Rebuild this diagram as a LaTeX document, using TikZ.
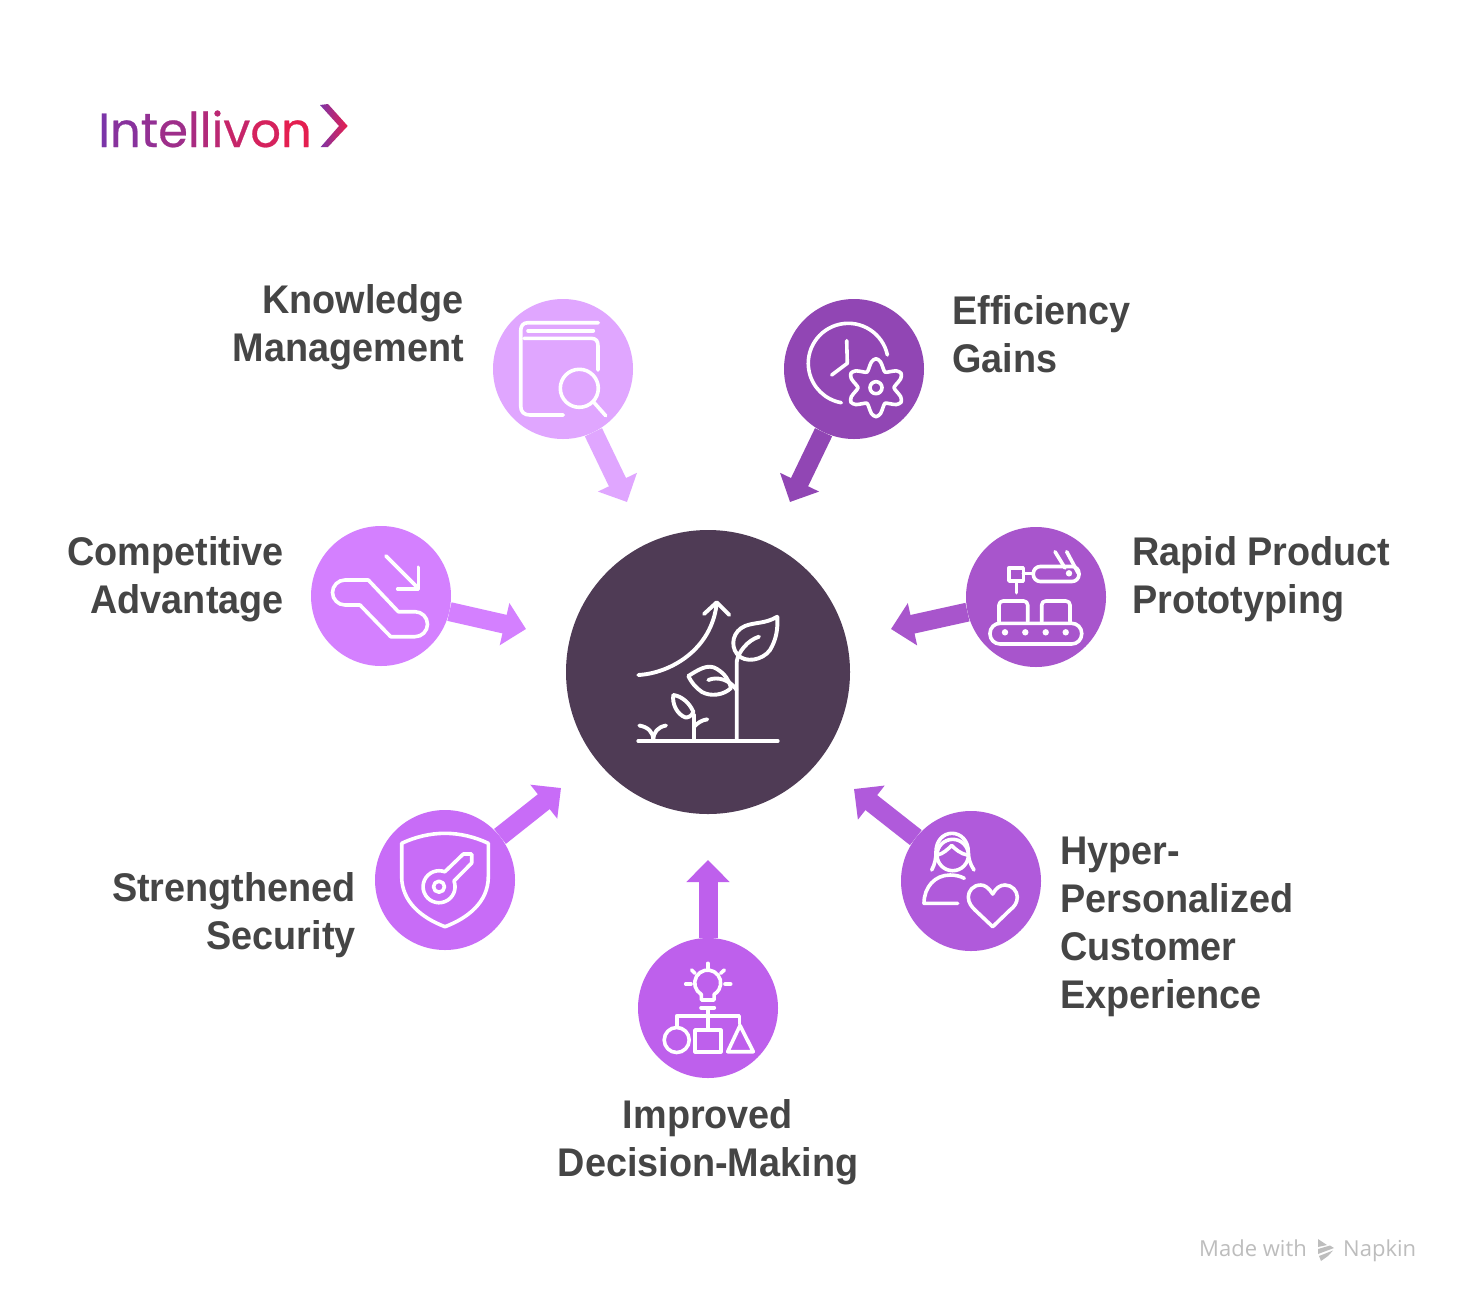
\documentclass[tikz,border=0pt]{standalone}
\usepackage{fontspec}
\usepackage{xcolor}
\usetikzlibrary{arrows.meta}
\setmainfont{Liberation Sans}
\newfontfamily\labelfont[FakeStretch=0.945]{Liberation Sans}
\newfontfamily\logofont[FakeBold=0.5]{Poppins}
\newfontfamily\footfont{Open Sans}
\definecolor{know-pink}{HTML}{E0A6FF}
\definecolor{eff-purple}{HTML}{9146B4}
\definecolor{comp-pink}{HTML}{D480FF}
\definecolor{rapid-purple}{HTML}{A855CC}
\definecolor{secure-purple}{HTML}{C86CF7}
\definecolor{hyper-purple}{HTML}{B05ADB}
\definecolor{improve-purple}{HTML}{BE60EC}
\definecolor{hub-plum}{HTML}{4F3B55}
\definecolor{label-grey}{HTML}{454545}
\definecolor{foot-grey}{HTML}{BDBDBD}
\definecolor{logo-left}{HTML}{7B35A8}
\definecolor{logo-right}{HTML}{E91E4C}
\tikzstyle{hub}=[circle, inner sep=0, minimum size=284pt, fill=hub-plum]
\tikzstyle{spoke}=[circle, inner sep=0, minimum size=140pt]
\tikzstyle{spokearrow}=[line width=19pt, -{Triangle[length=22pt,width=42pt]}]
\tikzstyle{icon}=[white, line width=3.6pt, line cap=round, line join=round]
\tikzstyle{hubicon}=[icon, line width=3.9pt]
\tikzstyle{caption}=[inner sep=0, text=label-grey, font=\labelfont\bfseries\fontsize{40}{48}\selectfont]

\begin{document}
\begin{tikzpicture}[x=1pt, y=-1pt]
	\useasboundingbox (0,0) rectangle (1464,1304);
	\fill[white] (0,0) rectangle (1464,1304);

	\coordinate (knowtip) at (627,502);
	\coordinate (efftip) at (790,502);
	\coordinate (comptip) at (526,629);
	\coordinate (rapidtip) at (891,629);
	\coordinate (securetip) at (561,788);
	\coordinate (hypertip) at (854,789);
	\coordinate (improvetip) at (708,860);

	\node[hub] (growth) at (708,672) {};
	\node[spoke, fill=know-pink] (know) at (563,369) {};
	\node[spoke, fill=eff-purple] (eff) at (854,369) {};
	\node[spoke, fill=comp-pink] (comp) at (381,596) {};
	\node[spoke, fill=rapid-purple] (rapid) at (1036,597) {};
	\node[spoke, fill=secure-purple] (secure) at (445,880) {};
	\node[spoke, fill=hyper-purple] (hyper) at (971,881) {};
	\node[spoke, fill=improve-purple] (improve) at (708,1008) {};

	\draw[spokearrow, know-pink] (know) -- (knowtip);
	\draw[spokearrow, eff-purple] (eff) -- (efftip);
	\draw[spokearrow, comp-pink] (comp) -- (comptip);
	\draw[spokearrow, rapid-purple] (rapid) -- (rapidtip);
	\draw[spokearrow, secure-purple] (secure) -- (securetip);
	\draw[spokearrow, hyper-purple] (hyper) -- (hypertip);
	\draw[spokearrow, improve-purple] (improve) -- (improvetip);

	\node[caption, align=right, anchor=east] (knowlabel) at (464,327) {Knowledge\\Management};
	\node[caption, align=left, anchor=west] (efflabel) at (952,334.5) {Efficiency\\Gains};
	\node[caption, align=right, anchor=east] (complabel) at (284,579) {Competitive\\Advantage};
	\node[caption, align=left, anchor=west] (rapidlabel) at (1132,579) {Rapid Product\\Prototyping};
	\node[caption, align=right, anchor=east] (securelabel) at (356,915) {Strengthened\\Security};
	\node[caption, align=left, anchor=west] (hyperlabel) at (1060,927) {Hyper-\\Personalized\\Customer\\Experience};
	\node[caption, align=center] (improvelabel) at (708,1142.5) {Improved\\Decision-Making};

	% logo
	\node[anchor=base west, inner sep=0, font=\logofont\fontsize{48}{48}\selectfont] (logotext) at (98,147) {%
		\textcolor{logo-left}{I}\textcolor{logo-left!88!logo-right}{n}\textcolor{logo-left!78!logo-right}{t}%
		\textcolor{logo-left!68!logo-right}{e}\textcolor{logo-left!58!logo-right}{l}\textcolor{logo-left!50!logo-right}{l}%
		\textcolor{logo-left!42!logo-right}{i}\textcolor{logo-left!32!logo-right}{v}\textcolor{logo-left!18!logo-right}{o}%
		\textcolor{logo-left!4!logo-right}{n}};
	\shade[left color=logo-left, right color=logo-right] (320,105)--(328,104)--(347.7,126)--(328,147)--(320.7,147)--(339,126)--cycle;

	% hub icon
	\draw[hubicon] (638.3,741)--(777.7,741);
	\draw[hubicon] (638.3,675) .. controls (670,673.3) and (711.7,650) .. (716.7,603.3);
	\draw[hubicon] (704,614)--(716.7,602.3)--(729.3,615);
	\draw[hubicon] (736.7,740)--(736.7,661.7) .. controls (738,652) and (748,640) .. (759,636.7);
	\draw[hubicon] (777.3,616.7) .. controls (765,624) and (755,622) .. (745,626) .. controls (733,631) and (730,645) .. (737,654) .. controls (745,664) and (763,660) .. (770,650) .. controls (776,640) and (778,630) .. (777.3,616.7);
	\draw[hubicon] (688.3,676) .. controls (698,670) and (708,663) .. (717,669) .. controls (725,674) and (729,680) .. (731,688) .. controls (724,695) and (711,697) .. (702,692) .. controls (696,688) and (691,682) .. (688.3,676);
	\draw[hubicon] (708.3,680) .. controls (718,676) and (730,680) .. (736.7,690);
	\draw[hubicon] (673.3,695) .. controls (681,696) and (689,702) .. (693.3,711.7) .. controls (692,716) and (688,718) .. (685,717.3) .. controls (677,714) and (672,704) .. (673.3,695);
	\draw[hubicon] (694,740)--(694,715);
	\draw[hubicon] (694,727) .. controls (697,723) and (702,720) .. (707.3,719.3);
	\draw[hubicon] (639.3,725.5) .. controls (648,727) and (653.3,732) .. (653.3,740);
	\draw[hubicon] (666,725.5) .. controls (658,727) and (653.3,732) .. (653.3,740);

	% book
	\draw[icon] (598.3,322.7)--(528,322.7) .. controls (523,322.7) and (520.7,326) .. (520.7,331)--(520.7,406) .. controls (520.7,412) and (524,415) .. (530,415)--(563.3,415);
	\draw[icon] (593.3,330.7)--(528,330.7);
	\draw[icon] (524,338.3)--(591,338.3) .. controls (596,338.3) and (598,341) .. (598,346)--(598,370);
	\draw[icon] (579.3,388.3) circle (19pt);
	\draw[icon] (593.3,401.7)--(605.7,415.7);

	% clock and gear
	\draw[icon] (887.4,355) arc[start angle=12, end angle=260, radius=40pt];
	\draw[icon] (846.7,340.7)--(847.3,363.3)--(831.7,375);
	\draw[icon] plot[smooth cycle, variable=\t, domain=0:350, samples=36] ({876+(23.5-5.5*cos(6*\t))*cos(\t)},{387.7+(23.5-5.5*cos(6*\t))*sin(\t)});
	\draw[icon] (876,387.7) circle (6pt);

	% escalator
	\draw[icon] (386,556)--(418.3,588.3);
	\draw[icon] (418.3,567.3)--(418.3,589)--(397.7,589);
	\draw[icon] (368.3,580)--(398.3,611.7)--(415,611.7) arc[start angle=90, end angle=-90, radius=12.5pt]--(390.7,636.7)--(360,605)--(345,605) arc[start angle=-90, end angle=-270, radius=12.5pt]--cycle;

	% robot arm and conveyor
	\draw[icon, rounded corners=10pt] (990,623.3) rectangle (1081.7,644);
	\foreach \dotx in {1005,1025.3,1045.7,1065.7}
		\fill[white] (\dotx,632.3) circle (3.2pt);
	\draw[icon, rounded corners=4pt] (999,621.7)--(999,601)--(1027.7,601)--(1027.7,621.7);
	\draw[icon, rounded corners=4pt] (1041.7,621.7)--(1041.7,601)--(1070,601)--(1070,621.7);
	\draw[icon] (1009,567.7) rectangle (1023.3,581);
	\draw[icon] (1016.3,581)--(1016.3,592.7);
	\draw[icon] (1023.3,573.3)--(1033.3,573.3);
	\draw[icon, rounded corners=7pt] (1033.3,566.5) rectangle (1079,581.5);
	\fill[white] (1069,573.3) circle (3.2pt);
	\draw[icon] (1055,551.7)--(1065,568);
	\draw[icon] (1066.7,551.7)--(1078.3,573.3);

	% shield and key
	\draw[icon] (401.7,843.3) .. controls (415,837) and (430,833.3) .. (445,833.3) .. controls (460,833.3) and (475,837) .. (488.3,843.3)--(488.3,876.7) .. controls (488.3,902) and (468,918) .. (445,926.7) .. controls (422,918) and (401.7,902) .. (401.7,876.7)--cycle;
	\draw[icon] (454,881) arc[start angle=21, end angle=-291, radius=16pt]--(463.3,854)--(471.7,854)--(471.7,863)--cycle;
	\draw[icon] (439,886.7) circle (5.5pt);

	% customer and heart
	\draw[icon] (952.7,855) circle (15.7pt);
	\draw[icon] (931.7,870) .. controls (935,864) and (936,858) .. (936,851.7) .. controls (936,841) and (943,833.3) .. (952,833.3) .. controls (961,833.3) and (968.3,841) .. (968.3,851.7) .. controls (968.3,858) and (970,864) .. (974,870);
	\draw[icon] (937.3,855) .. controls (943,854) and (948,849) .. (951.7,845.5) .. controls (955,849) and (961,854) .. (967.3,855);
	\draw[icon] (964.3,878.3) .. controls (960,876) and (955,875) .. (950,875) .. controls (935,875) and (924,887) .. (924,903.3)--(957.7,903.3);
	\draw[icon] (992.7,894) .. controls (989,888) and (985,885) .. (980.7,885) .. controls (973,885) and (968.3,891) .. (968.3,897) .. controls (968.3,903) and (972,907) .. (975,910)--(992.7,926.7)--(1010,910) .. controls (1014,907) and (1017.3,903) .. (1017.3,897) .. controls (1017.3,891) and (1012,885) .. (1005,885) .. controls (1000,885) and (996,888) .. (992.7,894)--cycle;

	% bulb and shapes
	\draw[icon] (701.2,994.3) arc[start angle=240, end angle=-60, radius=13pt]--(714,1000)--(701.5,1000)--cycle;
	\draw[icon] (701,1007.7)--(714.3,1007.7);
	\draw[icon] (707.7,963.3)--(707.7,968.3);
	\draw[icon] (691.7,970)--(695,973.3);
	\draw[icon] (724.3,970)--(720.7,973.3);
	\draw[icon] (685.7,984)--(691,984);
	\draw[icon] (725,984)--(730.7,984);
	\draw[icon] (707.7,1008)--(707.7,1029);
	\draw[icon] (676.7,1026.7)--(676.7,1015.7)--(739.3,1015.7)--(739.3,1024);
	\draw[icon] (676.7,1040) circle (12.5pt);
	\draw[icon] (695,1030) rectangle (720.7,1051.7);
	\draw[icon] (740,1025.5)--(753.3,1051.7)--(727.7,1051.7)--cycle;

	% footer
	\node[anchor=base west, inner sep=0, text=foot-grey, font=\footfont\fontsize{22}{22}\selectfont] (madewith) at (1199,1256) {Made with};
	\node[anchor=base west, inner sep=0, text=foot-grey, font=\footfont\fontsize{22}{22}\selectfont] (napkin) at (1343,1256) {Napkin};
	\fill[foot-grey] (1318,1239)--(1327,1245)--(1318,1247)--cycle;
	\fill[foot-grey] (1318,1249)--(1330,1245.5)--(1334,1248)--(1318,1254)--cycle;
	\fill[foot-grey] (1319,1256)--(1333,1250.5)--(1328,1256)--(1321,1261)--cycle;
\end{tikzpicture}
\end{document}
